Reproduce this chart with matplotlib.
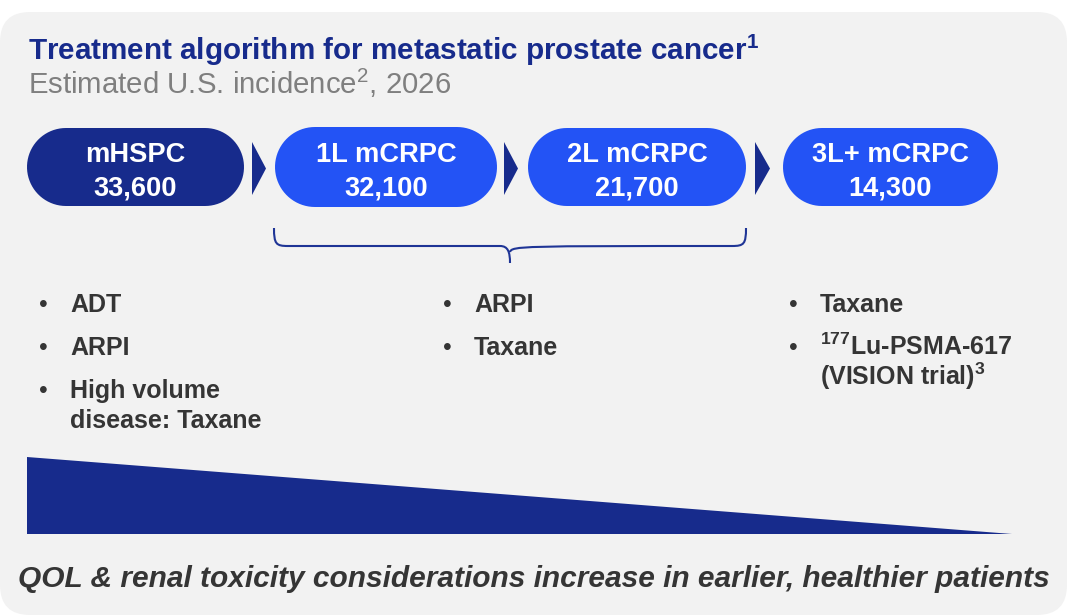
import matplotlib
matplotlib.use("Agg")
import numpy as np
from matplotlib import pyplot as plt
from matplotlib.patches import FancyBboxPatch, Polygon, PathPatch
from matplotlib.path import Path

plt.rcParams['font.family'] = ['Liberation Sans', 'DejaVu Sans']
plt.rcParams['mathtext.fontset'] = 'custom'
plt.rcParams['mathtext.rm'] = 'Liberation Sans'
plt.rcParams['mathtext.bf'] = 'Liberation Sans:bold'
plt.rcParams['mathtext.it'] = 'Liberation Sans:italic'

# data
title = r"Treatment algorithm for metastatic prostate cancer$^{\mathbf{1}}$"
subtitle = r"Estimated U.S. incidence$^{2}$, 2026"
stages = ["mHSPC", "1L mCRPC", "2L mCRPC", "3L+ mCRPC"]
incidence = [33600, 32100, 21700, 14300]
treatments = [
    [["ADT"], ["ARPI"], ["High volume", "disease: Taxane"]],
    [["ARPI"], ["Taxane"]],
    [["Taxane"], [r"$^{\mathbf{177}}$Lu-PSMA-617", r"(VISION trial)$^{\mathbf{3}}$"]],
]
footer = "QOL & renal toxicity considerations increase in earlier, healthier patients"

NAVY = "#172b8c"
BLUE = "#2353f5"
TEXT = "#353535"
GRAY = "#7f7f7f"
PANEL = "#f2f2f2"

# layout (pixels)
pill_x = [(27, 244), (275, 497), (528, 746), (783, 998)]
pill_y = [(128, 206), (127, 207), (128, 206), (128, 206)]
pill_colors = [NAVY, BLUE, BLUE, BLUE]
arrow_x = [(252, 266), (504, 518), (755, 770)]
col_x = [(43, 70), (447, 474), (793, 820)]


def stadium(x0, x1, y0, y1):
    r = (y1 - y0) / 2
    cy = (y0 + y1) / 2
    t = np.linspace(-np.pi / 2, np.pi / 2, 40)
    right = np.column_stack([x1 - r + r * np.cos(t), cy + r * np.sin(t)])
    left = np.column_stack([x0 + r - r * np.cos(t), cy - r * np.sin(t)])
    return np.vstack([right, left])


fig = plt.figure(figsize=(10.8, 6.16), dpi=100)
ax = fig.add_axes([0, 0, 1, 1])
ax.set_xlim(0, 1080)
ax.set_ylim(616, 0)
ax.axis('off')

ax.add_patch(FancyBboxPatch((0, 12), 1067, 603, boxstyle="round,pad=0,rounding_size=30",
                            fc=PANEL, ec="none"))

ax.text(28, 60, title, fontsize=21.3, fontweight='bold', color=NAVY, va='baseline')
ax.text(28, 94, subtitle, fontsize=21.2, color=GRAY, va='baseline')

# stage pills
for i, (name, val) in enumerate(zip(stages, incidence)):
    x0, x1 = pill_x[i]
    y0, y1 = pill_y[i]
    ax.add_patch(Polygon(stadium(x0, x1, y0, y1), closed=True, fc=pill_colors[i], ec="none"))
    cx = (x0 + x1) / 2
    cy = (y0 + y1) / 2
    ax.text(cx, cy - 5, name, fontsize=19.6, fontweight='bold', color='white',
            ha='center', va='baseline')
    ax.text(cx, cy + 28, f"{val:,}", fontsize=19.6, fontweight='bold', color='white',
            ha='center', va='baseline')

for x0, x1 in arrow_x:
    ax.add_patch(Polygon([(x0, 142), (x1, 168.5), (x0, 195)], closed=True, fc=NAVY, ec="none"))

# bracket over 1L and 2L
bl, br, bm = 274, 746, 510
top, mid, tip = 228, 246, 263
verts = [(bl, top), (bl, mid - 2), (bl + 2, mid), (bl + 14, mid),
         (bm - 10, mid), (bm - 2, mid), (bm, mid + 6), (bm, tip),
         (bm, mid + 6), (bm + 2, mid), (bm + 10, mid),
         (br - 14, mid), (br - 2, mid), (br, mid - 2), (br, top)]
codes = [Path.MOVETO, Path.CURVE4, Path.CURVE4, Path.CURVE4,
         Path.LINETO, Path.CURVE4, Path.CURVE4, Path.CURVE4,
         Path.MOVETO, Path.CURVE4, Path.CURVE4,
         Path.LINETO, Path.CURVE4, Path.CURVE4, Path.CURVE4]
ax.add_patch(PathPatch(Path(verts, codes), fc="none", ec="#1f3596", lw=1.5))

# treatment bullets
for (bx, tx), items in zip(col_x, treatments):
    y = 312
    for lines in items:
        ax.text(bx, y, "\u2022", fontsize=18, color=TEXT, ha='center', va='baseline')
        for line in lines:
            ax.text(tx, y, line, fontsize=18, fontweight='bold', color=TEXT, va='baseline')
            y += 30
        y += 13

# wedge
ax.add_patch(Polygon([(27, 457), (1012, 534), (27, 534)], closed=True, fc=NAVY, ec="none"))

ax.text(18, 587, footer, fontsize=21.5, fontweight='bold', fontstyle='italic',
        color=TEXT, va='baseline')

fig.savefig("out.png", dpi=100, facecolor='white')
